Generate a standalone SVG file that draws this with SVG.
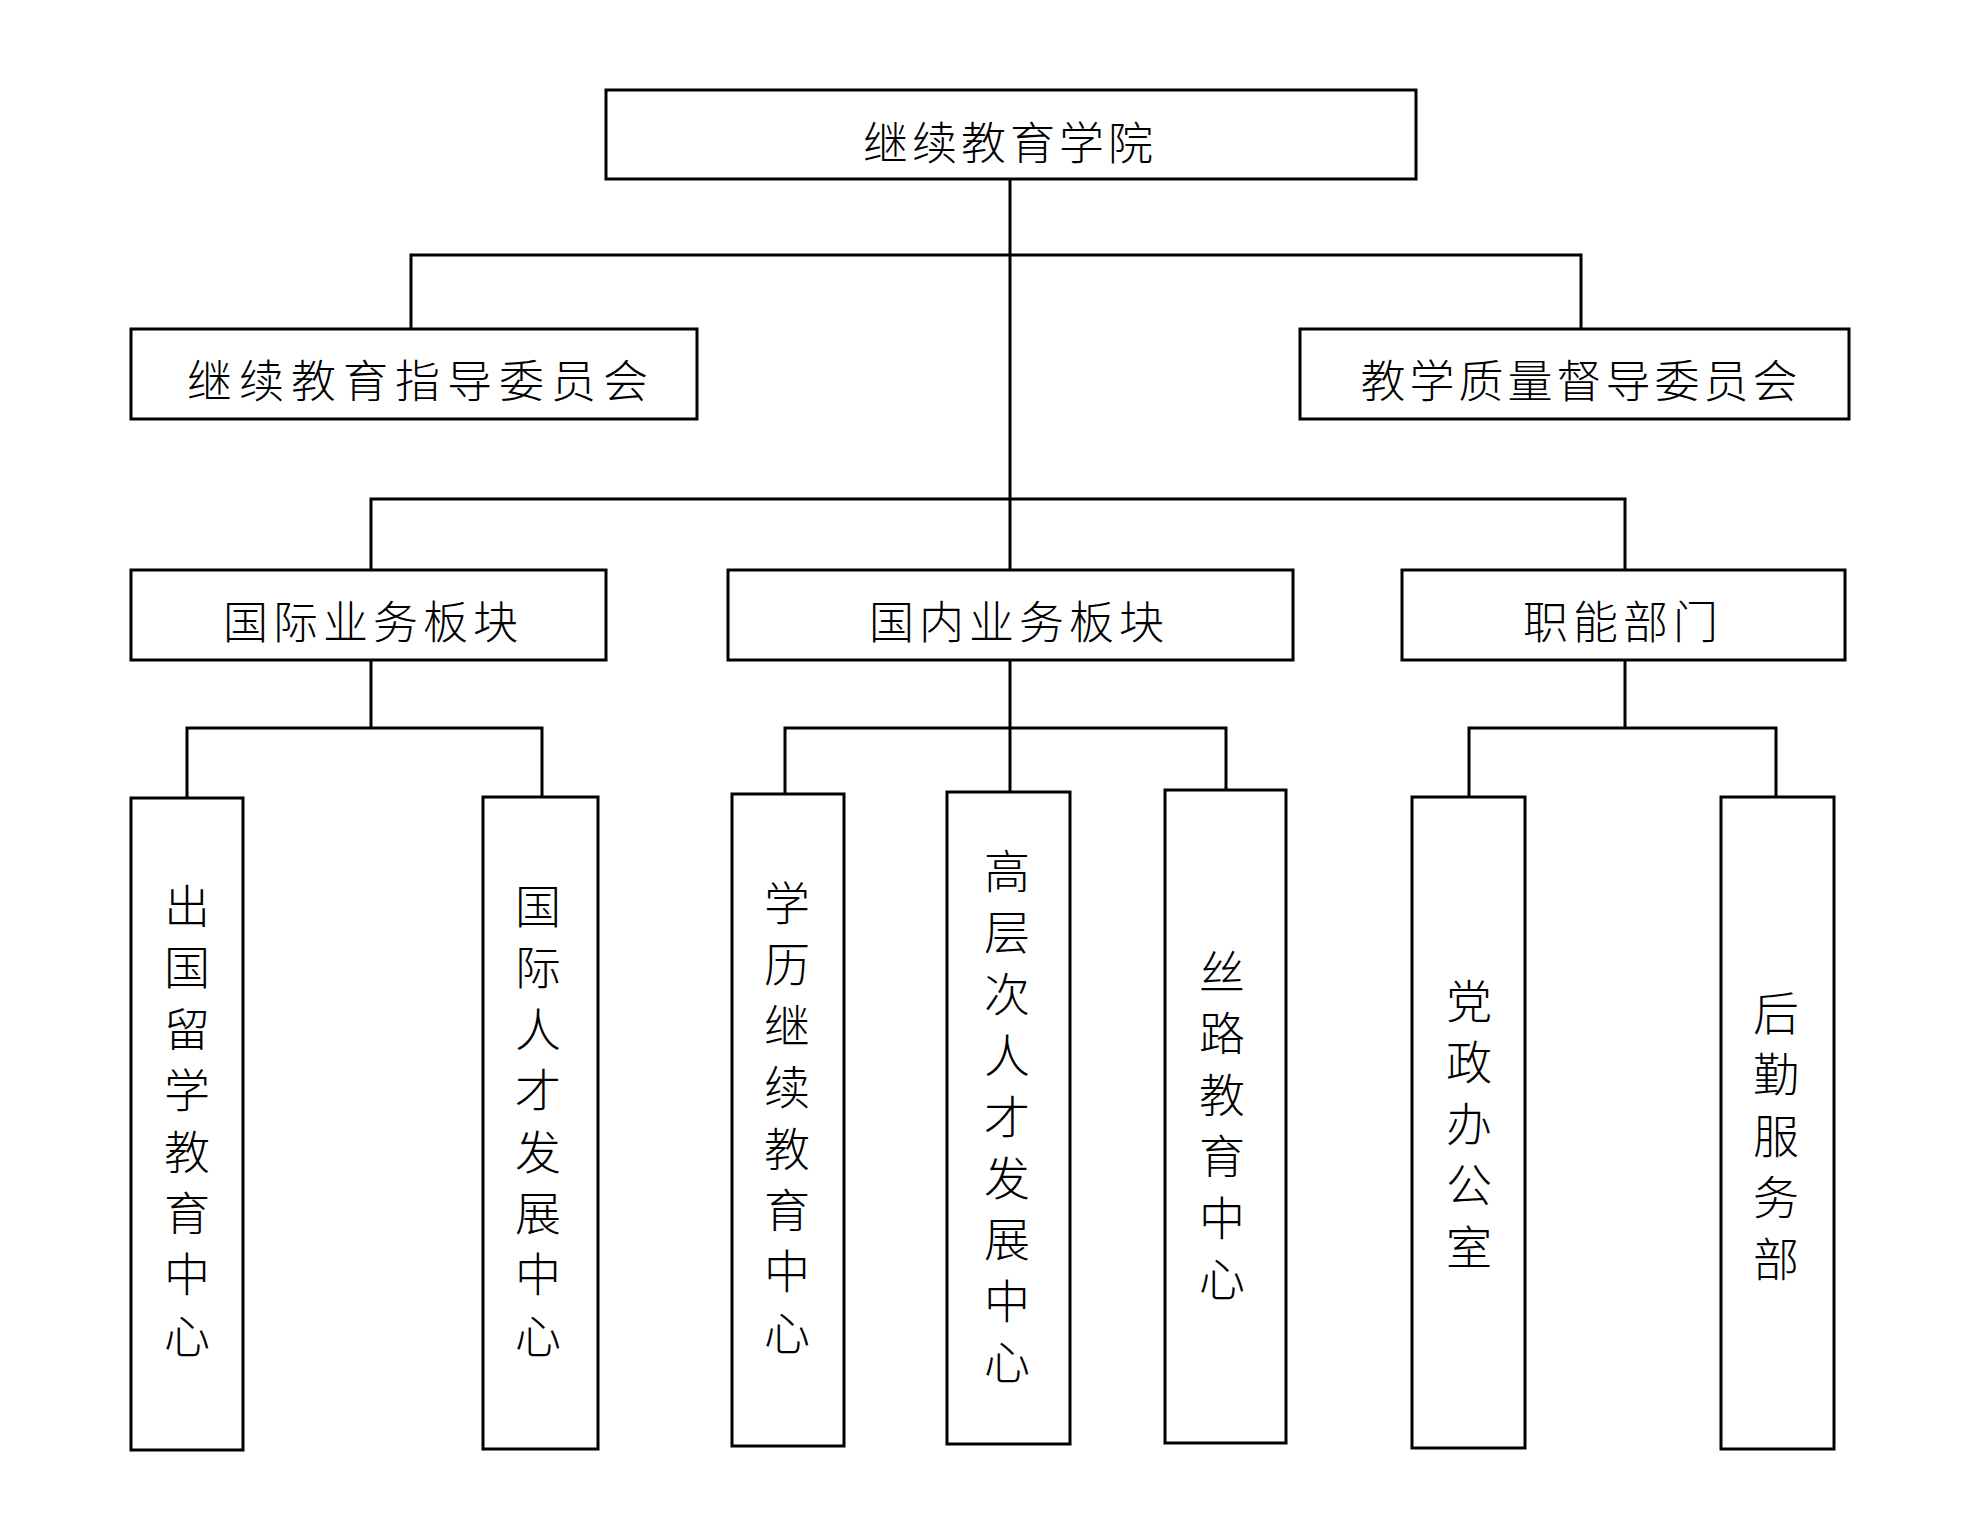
<svg xmlns="http://www.w3.org/2000/svg" width="1985" height="1540" viewBox="0 0 1985 1540">
<style>
rect{fill:#fff;stroke:#000;stroke-width:3}
.c{fill:none;stroke:#000;stroke-width:3}
text{font-family:"Noto Sans CJK SC","Noto Sans CJK JP",sans-serif;font-size:45px;fill:#000;text-anchor:middle;dominant-baseline:central;font-weight:300}
.v{font-size:46px}
</style>
<rect x="0" y="0" width="1985" height="1540" style="stroke:none"/>
<g id="connectors">
<path class="c" d="M1010 179V728M411 329V255H1581V329M371 570V499H1625V570M371 660V728M187 798V728H542V797M1010 660V792M785 794V728H1226V790M1625 660V728M1469 797V728H1776V797"/>
</g>
<g id="n0"><rect x="606" y="90" width="810" height="89"/><text x="1010" y="140" letter-spacing="4">继续教育学院</text></g>
<g id="n1"><rect x="131" y="329" width="566" height="90"/><text x="421" y="378" letter-spacing="7">继续教育指导委员会</text></g>
<g id="n2"><rect x="1300" y="329" width="549" height="90"/><text x="1581" y="378" letter-spacing="4">教学质量督导委员会</text></g>
<g id="n3"><rect x="131" y="570" width="475" height="90"/><text x="373" y="619" letter-spacing="5">国际业务板块</text></g>
<g id="n4"><rect x="728" y="570" width="565" height="90"/><text x="1019" y="619" letter-spacing="5">国内业务板块</text></g>
<g id="n5"><rect x="1402" y="570" width="443" height="90"/><text x="1623" y="619" letter-spacing="5">职能部门</text></g>
<g id="n6"><rect x="131" y="798" width="112" height="652"/>
<text class="v" x="187" y="903">出</text><text class="v" x="187" y="964">国</text><text class="v" x="187" y="1026">留</text><text class="v" x="187" y="1087">学</text><text class="v" x="187" y="1149">教</text><text class="v" x="187" y="1210">育</text><text class="v" x="187" y="1271">中</text><text class="v" x="187" y="1333">心</text></g>
<g id="n7"><rect x="483" y="797" width="115" height="652"/>
<text class="v" x="538" y="903">国</text><text class="v" x="538" y="964">际</text><text class="v" x="538" y="1026">人</text><text class="v" x="538" y="1087">才</text><text class="v" x="538" y="1149">发</text><text class="v" x="538" y="1210">展</text><text class="v" x="538" y="1271">中</text><text class="v" x="538" y="1333">心</text></g>
<g id="n8"><rect x="732" y="794" width="112" height="652"/>
<text class="v" x="787" y="900">学</text><text class="v" x="787" y="961">历</text><text class="v" x="787" y="1023">继</text><text class="v" x="787" y="1084">续</text><text class="v" x="787" y="1146">教</text><text class="v" x="787" y="1207">育</text><text class="v" x="787" y="1268">中</text><text class="v" x="787" y="1330">心</text></g>
<g id="n9"><rect x="947" y="792" width="123" height="652"/>
<text class="v" x="1007" y="868">高</text><text class="v" x="1007" y="929">层</text><text class="v" x="1007" y="991">次</text><text class="v" x="1007" y="1052">人</text><text class="v" x="1007" y="1114">才</text><text class="v" x="1007" y="1175">发</text><text class="v" x="1007" y="1236">展</text><text class="v" x="1007" y="1298">中</text><text class="v" x="1007" y="1359">心</text></g>
<g id="n10"><rect x="1165" y="790" width="121" height="653"/>
<text class="v" x="1222" y="969">丝</text><text class="v" x="1222" y="1030">路</text><text class="v" x="1222" y="1092">教</text><text class="v" x="1222" y="1153">育</text><text class="v" x="1222" y="1215">中</text><text class="v" x="1222" y="1276">心</text></g>
<g id="n11"><rect x="1412" y="797" width="113" height="651"/>
<text class="v" x="1469" y="998">党</text><text class="v" x="1469" y="1059">政</text><text class="v" x="1469" y="1121">办</text><text class="v" x="1469" y="1182">公</text><text class="v" x="1469" y="1244">室</text></g>
<g id="n12"><rect x="1721" y="797" width="113" height="652"/>
<text class="v" x="1776" y="1010">后</text><text class="v" x="1776" y="1071">勤</text><text class="v" x="1776" y="1133">服</text><text class="v" x="1776" y="1194">务</text><text class="v" x="1776" y="1256">部</text></g>
</svg>
